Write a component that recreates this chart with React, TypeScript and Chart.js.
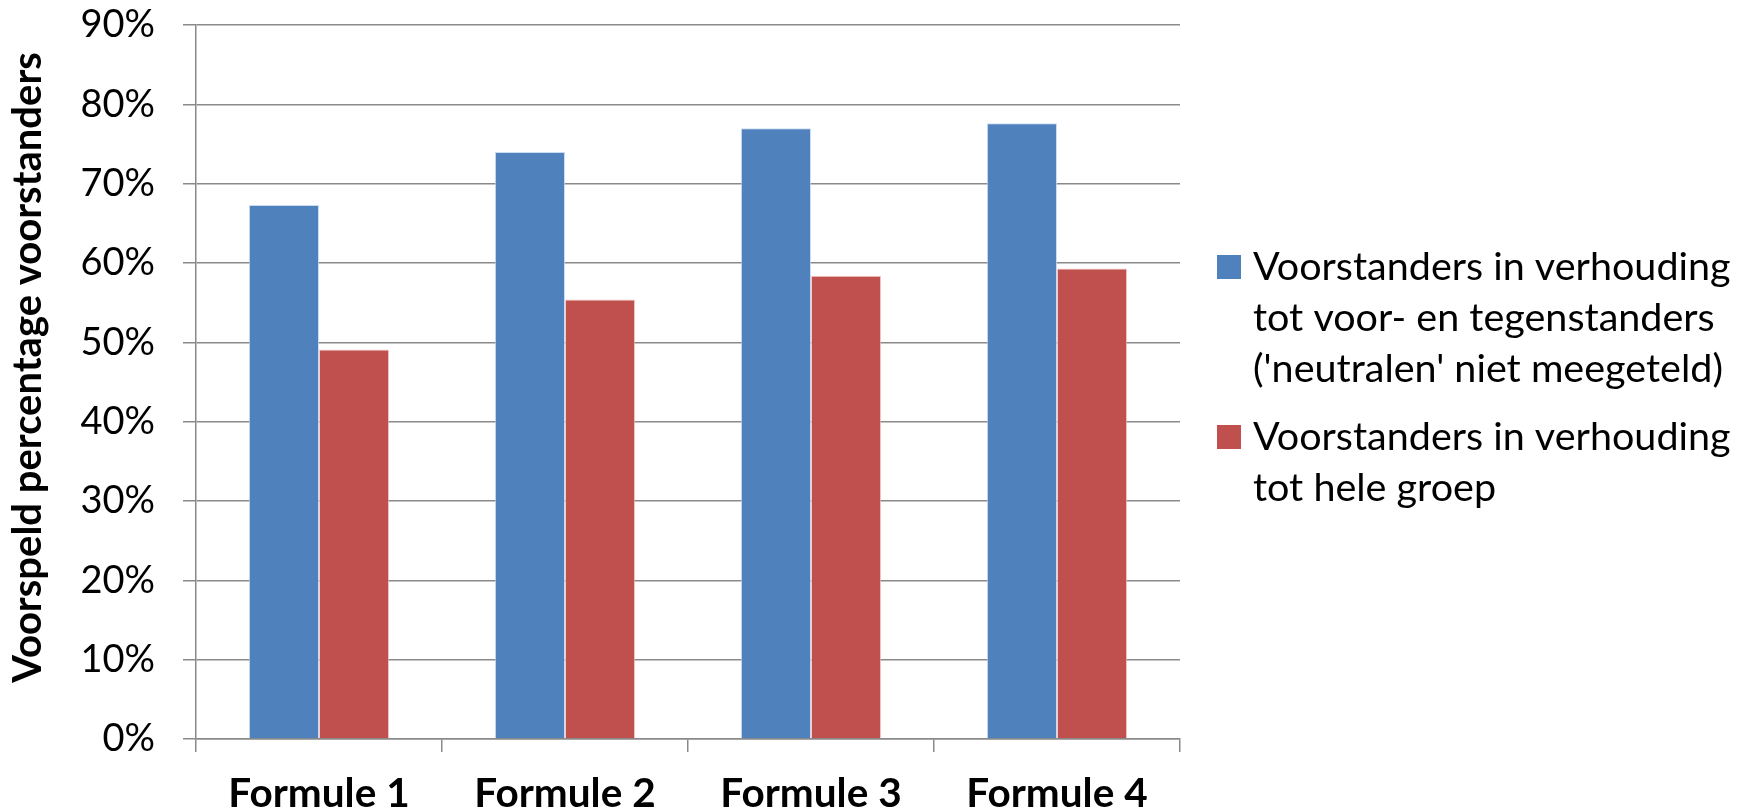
import React, { useEffect, useRef } from "react";
import { Chart, registerables } from "chart.js";

Chart.register(...registerables);

const categories = ["Formule 1", "Formule 2", "Formule 3", "Formule 4"];
const seriesBlue = [67.3, 74.0, 77.0, 77.6];
const seriesRed = [49.1, 55.4, 58.4, 59.3];
const seriesLabels = [
  "Voorstanders in verhouding tot voor- en tegenstanders ('neutralen' niet meegeteld)",
  "Voorstanders in verhouding tot hele groep",
];
const legendLinesBlue = ["Voorstanders in verhouding", "tot voor- en tegenstanders", "('neutralen' niet meegeteld)"];
const legendLinesRed = ["Voorstanders in verhouding", "tot hele groep"];
const yTitle = "Voorspeld percentage voorstanders";
const yMax = 90;
const yStep = 10;

const FONT = "Lato, 'Open Sans', sans-serif";
const BLUE = "#4F81BD";
const RED = "#C0504D";
const GRID = "#8a8a8a";

const legendPlugin = {
  id: "customLegend",
  afterDraw(chart: any) {
    const ctx = chart.ctx;
    const entries = [
      { color: chart.data.datasets[0].backgroundColor, lines: legendLinesBlue, cy: 267 },
      { color: chart.data.datasets[1].backgroundColor, lines: legendLinesRed, cy: 437 },
    ];
    ctx.save();
    ctx.font = `39.5px ${FONT}`;
    ctx.textBaseline = "middle";
    ctx.textAlign = "left";
    entries.forEach((e) => {
      ctx.fillStyle = e.color;
      ctx.fillRect(1217, e.cy - 12, 24, 24);
      ctx.fillStyle = "#000";
      e.lines.forEach((l, i) => {
        ctx.fillText(l, 1253, e.cy + i * 51);
      });
    });
    ctx.restore();
  },
};

export default function App() {
  const ref = useRef<HTMLCanvasElement>(null);
  useEffect(() => {
    document.body.style.margin = "0";
    const chart = new Chart(ref.current!, {
      type: "bar",
      data: {
        labels: categories,
        datasets: [
          {
            label: seriesLabels[0],
            data: seriesBlue,
            backgroundColor: BLUE,
            borderColor: "rgba(190,210,240,0.8)",
            borderWidth: 1,
            categoryPercentage: 0.57,
            barPercentage: 1,
          },
          {
            label: seriesLabels[1],
            data: seriesRed,
            backgroundColor: RED,
            borderColor: "rgba(240,190,190,0.8)",
            borderWidth: 1,
            categoryPercentage: 0.57,
            barPercentage: 1,
          },
        ],
      },
      options: {
        animation: false,
        responsive: false,
        devicePixelRatio: 1,
        layout: { padding: { left: 0, right: 1754 - 1180, top: 25, bottom: 0 } },
        plugins: { legend: { display: false }, tooltip: { enabled: false } },
        scales: {
          x: {
            offset: true,
            grid: {
              display: true,
              offset: true,
              drawOnChartArea: false,
              drawTicks: true,
              tickLength: 13,
              color: GRID,
              lineWidth: 1.5,
            },
            border: { display: true, color: GRID, width: 1.5 },
            ticks: {
              color: "#000",
              font: { family: FONT, size: 40.5, weight: "bold" },
              padding: 18,
              maxRotation: 0,
            },
            afterFit: (s: any) => {
              s.height = 812 - 739;
            },
          },
          y: {
            min: 0,
            max: yMax,
            ticks: {
              stepSize: yStep,
              color: "#000",
              font: { family: FONT, size: 38 },
              padding: 28,
              callback: (v: any) => `${v}%`,
            },
            grid: { color: GRID, lineWidth: 1.5, tickLength: 13, drawTicks: true },
            border: { display: true, color: GRID, width: 1.5 },
            title: {
              display: true,
              text: "   " + yTitle,
              color: "#000",
              font: { family: FONT, size: 40, weight: "bold" },
              padding: { top: 4, bottom: 0 },
            },
            afterFit: (s: any) => {
              s.width = 196;
              s.paddingTop = 0;
              s.paddingBottom = 0;
            },
          },
        },
      },
      plugins: [legendPlugin],
    });
    return () => chart.destroy();
  }, []);
  return (
    <div style={{ width: 1754, height: 812, background: "#fff" }}>
      <canvas ref={ref} width={1754} height={812} />
    </div>
  );
}
